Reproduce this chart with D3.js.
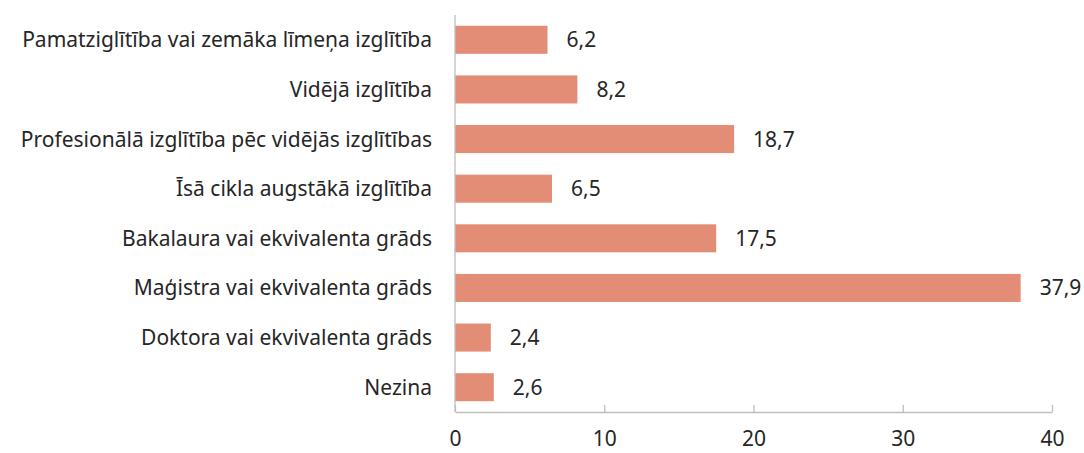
<!DOCTYPE html>
<html>
<head>
<meta charset="utf-8">
<script src="https://cdn.jsdelivr.net/npm/d3@7"></script>
<style>
  body { margin: 0; background: #fff; }
  svg text { font-family: "Noto Sans", sans-serif; fill: #262626; }
</style>
</head>
<body>
<svg class="chart" width="1084" height="453"></svg>
<script>
let categories = [
  "Pamatziglītība vai zemāka līmeņa izglītība",
  "Vidējā izglītība",
  "Profesionālā izglītība pēc vidējās izglītības",
  "Īsā cikla augstākā izglītība",
  "Bakalaura vai ekvivalenta grāds",
  "Maģistra vai ekvivalenta grāds",
  "Doktora vai ekvivalenta grāds",
  "Nezina"
];
let values = [6.2, 8.2, 18.7, 6.5, 17.5, 37.9, 2.4, 2.6];
let xTicks = [0, 10, 20, 30, 40];

let barColor = '#e48d76';
let axisColor = '#bfbfbf';

let SVG = d3.select('svg.chart');

// scales
let x = d3.scaleLinear().domain([0, 40]).range([455, 1052]);
let y = d3.scaleBand()
  .domain(categories)
  .range([15, 412])
  .paddingInner(0.435)
  .paddingOuter(0.2175);

// bars
SVG.append('g')
  .selectAll('rect.bar')
  .data(values)
  .enter()
  .append('rect')
  .attr('class', 'bar')
  .attr('x', x(0))
  .attr('y', (d, i) => y(categories[i]))
  .attr('width', d => x(d) - x(0))
  .attr('height', y.bandwidth())
  .style('fill', barColor);

// value labels
SVG.append('g')
  .selectAll('text.val')
  .data(values)
  .enter()
  .append('text')
  .attr('class', 'val')
  .attr('x', d => x(d) + 19)
  .attr('y', (d, i) => y(categories[i]) + y.bandwidth() / 2)
  .attr('dy', '0.36em')
  .style('font-size', '21px')
  .text(d => d.toFixed(1).replace('.', ','));

// x axis
let xAxis = SVG.append('g')
  .attr('transform', 'translate(0, 412)')
  .call(d3.axisBottom(x).tickValues(xTicks).tickSize(-7).tickSizeOuter(0).tickPadding(19));
xAxis.select('.domain').attr('stroke', axisColor).attr('stroke-width', 1.3);
xAxis.selectAll('.tick line').attr('stroke', axisColor).attr('stroke-width', 1.3);
xAxis.selectAll('.tick text')
  .style('font-size', '21px')
  .style('font-family', '"Noto Sans", sans-serif')
  .attr('fill', '#262626');

// y axis line
SVG.append('line')
  .attr('x1', x(0)).attr('x2', x(0))
  .attr('y1', 15).attr('y2', 412)
  .attr('stroke', axisColor)
  .attr('stroke-width', 1.3);

// category labels
SVG.append('g')
  .selectAll('text.cat')
  .data(categories)
  .enter()
  .append('text')
  .attr('class', 'cat')
  .attr('x', 432)
  .attr('y', d => y(d) + y.bandwidth() / 2)
  .attr('dy', '0.36em')
  .attr('text-anchor', 'end')
  .style('font-size', '21px')
  .text(d => d);
</script>
</body>
</html>
